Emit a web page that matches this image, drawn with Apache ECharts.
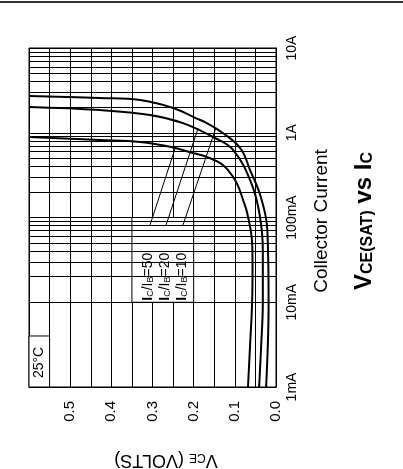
<!DOCTYPE html>
<html><head><meta charset="utf-8">
<script src="https://cdn.jsdelivr.net/npm/echarts@6/dist/echarts.min.js"></script>
<style>html,body{margin:0;padding:0;background:#fff}#c{width:403px;height:469px}</style>
</head><body><div id="c"></div>
<script>
// ---- data (collector current in A, VCE(sat) in V) ----
const currentTickLabels = ['1mA', '10mA', '100mA', '1A', '10A'];
const vceLabelValues = [0.0, 0.1, 0.2, 0.3, 0.4, 0.5];

const ib50I = [0.001, 0.0031, 0.01, 0.026, 0.05, 0.113, 0.161, 0.241, 0.300, 0.416, 0.518, 0.577, 0.68, 0.778, 0.821, 0.891];
const ib50V = [0.068, 0.063, 0.058, 0.057, 0.058, 0.070, 0.080, 0.093, 0.104, 0.129, 0.168, 0.202, 0.255, 0.330, 0.428, 0.600];

const ib20I = [0.001, 0.0031, 0.01, 0.041, 0.11, 0.255, 0.625, 0.891, 1.30, 1.62, 1.85, 2.01];
const ib20V = [0.041, 0.036, 0.032, 0.032, 0.040, 0.060, 0.104, 0.153, 0.226, 0.306, 0.428, 0.600];

const ib10I = [0.001, 0.01, 0.071, 0.175, 0.363, 0.65, 1.0, 1.30, 1.49, 1.96, 2.43, 2.57, 2.72];
const ib10V = [0.024, 0.018, 0.021, 0.037, 0.063, 0.086, 0.130, 0.168, 0.195, 0.250, 0.330, 0.428, 0.600];

// annotation anchors (data space)
const legendNames = ['50', '20', '10'];
const legendTextV = [0.311, 0.270, 0.228];
const legendTextI = 0.02;
const leaderStartV = [0.306, 0.267, 0.226];
const leaderStartI = 0.0815;
const leaderEndV = [0.245, 0.189, 0.146];
const leaderEndI = [0.656, 1.14, 1.14];

// log grid minor lines 2..9 per decade
const minorGrid = [];
[0.001, 0.01, 0.1, 1].forEach(d => { for (let k = 2; k <= 9; k++) minorGrid.push(+(d * k).toPrecision(3)); });

const pairs = (V, I) => V.map((v, i) => [v, I[i]]);
const FONT = '"Liberation Sans", Arial, Helvetica, sans-serif';

const chart = echarts.init(document.getElementById('c'), null, {renderer: 'canvas'});
const curveStyle = {type: 'line', smooth: 0.4, symbol: 'none', z: 6,
  lineStyle: {color: '#000', width: 2}, silent: true, clip: true};

chart.setOption({
  animation: false,
  backgroundColor: '#fff',
  grid: {left: 29, right: 127, top: 48, bottom: 82, show: true, borderColor: '#000', borderWidth: 1},
  xAxis: {
    type: 'value', inverse: true, min: 0, max: 0.6, interval: 0.05, position: 'bottom',
    axisLine: {show: true, lineStyle: {color: '#000', width: 1}},
    axisTick: {show: false},
    splitLine: {show: true, lineStyle: {color: '#000', width: 1}},
    axisLabel: {
      rotate: 90, margin: 14, color: '#000', fontSize: 15, fontFamily: FONT,
      formatter: v => {
        const m = vceLabelValues.find(t => Math.abs(t - v) < 1e-6);
        return m === undefined ? '' : m.toFixed(1);
      }
    }
  },
  yAxis: {
    type: 'log', logBase: 10, min: 0.001, max: 10, position: 'right',
    axisLine: {show: true, lineStyle: {color: '#000', width: 1}},
    axisTick: {show: false},
    splitLine: {show: true, lineStyle: {color: '#000', width: 1}},
    axisLabel: {
      rotate: 90, margin: 9, color: '#000', fontSize: 14, fontFamily: FONT,
      formatter: v => currentTickLabels[Math.round(Math.log10(v)) + 3] || ''
    }
  },
  graphic: [
    {type: 'line', shape: {x1: 0, y1: 2, x2: 403, y2: 2}, style: {stroke: '#333', lineWidth: 2}},
    {type: 'text', x: 322, y: 221, rotation: Math.PI / 2,
      style: {text: 'Collector Current', font: '19px ' + FONT, fill: '#000', align: 'center', verticalAlign: 'middle'}},
    {type: 'text', x: 364, y: 221, rotation: Math.PI / 2,
      style: {text: '{a|V}{b|CE(SAT)}{a| vs I}{b|C}', align: 'center', verticalAlign: 'middle', fill: '#000',
        rich: {a: {font: 'bold 24px ' + FONT, fill: '#000'}, b: {font: 'bold 16px ' + FONT, fill: '#000', verticalAlign: 'bottom'}}}},
    {type: 'text', x: 166, y: 460, rotation: Math.PI,
      style: {text: '{a|V}{b|CE}{a| (VOLTS)}', align: 'center', verticalAlign: 'middle', fill: '#000',
        rich: {a: {font: '18px ' + FONT, fill: '#000'}, b: {font: '12px ' + FONT, fill: '#000', verticalAlign: 'bottom'}}}}
  ],
  series: [
    {type: 'line', data: [], silent: true, z: 2,
      markLine: {silent: true, symbol: ['none', 'none'], animation: false, label: {show: false},
        lineStyle: {color: '#000', width: 1, type: 'solid'},
        data: minorGrid.map(v => ({yAxis: v}))}},
    {type: 'line', data: [], silent: true, z: 3,
      markArea: {silent: true, itemStyle: {color: '#fff', borderColor: '#000', borderWidth: 1},
        data: [
          [{xAxis: 0.6, yAxis: 0.001}, {xAxis: 0.55, yAxis: 0.004}],
          [{xAxis: 0.35, yAxis: 0.01}, {xAxis: 0.2, yAxis: 0.1}]
        ]},
      markPoint: {silent: true, symbol: 'circle', symbolSize: 0,
        label: {show: true, position: 'inside', rotate: 90, color: '#000', fontFamily: FONT},
        data: [
          {coord: [0.575, 0.00195], label: {formatter: '25°C', fontSize: 14}},
          ...legendNames.map((n, i) => ({coord: [legendTextV[i], legendTextI],
            label: {formatter: '{b|I}{s|C}{n|/I}{s|B}{n|=' + n + '}',
              rich: {b: {fontSize: 14, fontWeight: 'bold', fontFamily: FONT, color: '#000'},
                     n: {fontSize: 14, fontFamily: FONT, color: '#000'},
                     s: {fontSize: 9, fontFamily: FONT, color: '#000', verticalAlign: 'bottom'}}}}))
        ]}},
    {type: 'line', data: [], silent: true, z: 5,
      markLine: {silent: true, symbol: ['none', 'none'], animation: false, label: {show: false},
        lineStyle: {color: '#000', width: 1, type: 'solid'},
        data: legendNames.map((n, i) => [{coord: [leaderStartV[i], leaderStartI]}, {coord: [leaderEndV[i], leaderEndI[i]]}])}},
    Object.assign({name: 'IC/IB=50', data: pairs(ib50V, ib50I)}, curveStyle),
    Object.assign({name: 'IC/IB=20', data: pairs(ib20V, ib20I)}, curveStyle),
    Object.assign({name: 'IC/IB=10', data: pairs(ib10V, ib10I)}, curveStyle)
  ]
});
</script></body></html>
